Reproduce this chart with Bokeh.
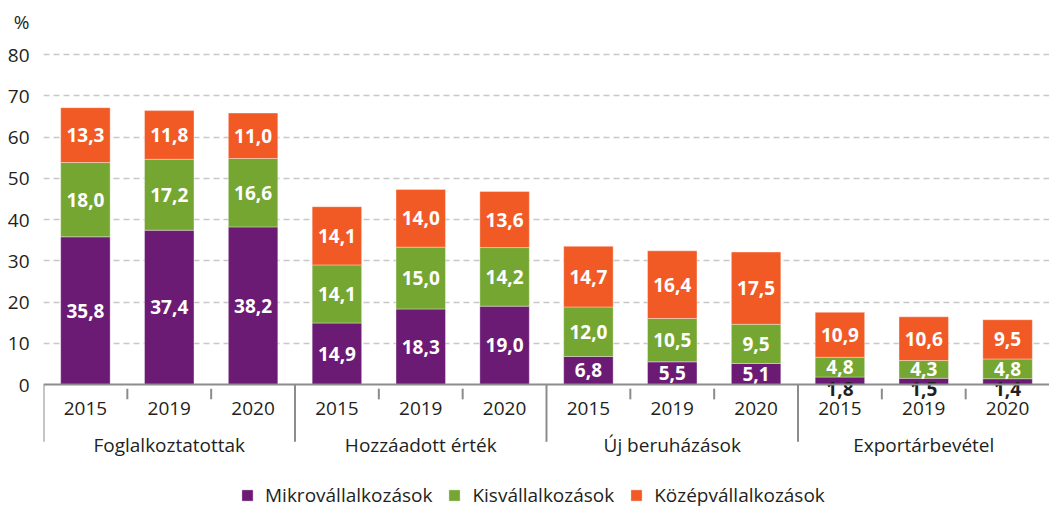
from bokeh.plotting import figure
from bokeh.models import (FactorRange, Range1d, ColumnDataSource, Legend, LegendItem,
                          FixedTicker, Span)
from bokeh.core.properties import value
from bokeh.embed import file_html
from bokeh.resources import INLINE

# ---------------- data ----------------
groups = ["Foglalkoztatottak", "Hozzáadott érték", "Új beruházások", "Exportárbevétel"]
years = ["2015", "2019", "2020"]
series_names = ["Mikrovállalkozások", "Kisvállalkozások", "Középvállalkozások"]
micro = [35.8, 37.4, 38.2, 14.9, 18.3, 19.0, 6.8, 5.5, 5.1, 1.8, 1.5, 1.4]
small = [18.0, 17.2, 16.6, 14.1, 15.0, 14.2, 12.0, 10.5, 9.5, 4.8, 4.3, 4.8]
medium = [13.3, 11.8, 11.0, 14.1, 14.0, 13.6, 14.7, 16.4, 17.5, 10.9, 10.6, 9.5]
y_ticks = [0, 10, 20, 30, 40, 50, 60, 70, 80]
y_unit = "%"
y_unit_pos = 88

# ---------------- style ----------------
colors = ["#6b1b74", "#75a632", "#f15a24"]
FONT = "Open Sans"
TXT = "#231f20"
FS = "19px"
W, H = 1049, 508
LEFT = 43
PX_PER_UNIT = 4.125      # pixels per y unit
ZERO_Y = 384             # pixel position of y=0 from figure top

factors = [(g, y) for g in groups for y in years]
fmt = lambda v: f"{v:.1f}".replace(".", ",")

y_max = ZERO_Y / PX_PER_UNIT
y_min = -(H - ZERO_Y) / PX_PER_UNIT

p = figure(width=W, height=H, output_backend="svg", toolbar_location=None,
           x_range=FactorRange(*factors, factor_padding=0, group_padding=0, range_padding=0),
           y_range=Range1d(y_min, y_max), x_axis_location=None,
           min_border_left=LEFT, min_border_right=0, min_border_top=0, min_border_bottom=0)
p.outline_line_color = None
p.background_fill_color = "white"
p.xgrid.visible = False

# y axis (unit sign shown as an extra, relabelled tick at the top)
ax = p.yaxis[0]
ax.ticker = FixedTicker(ticks=y_ticks + [y_unit_pos])
ax.major_label_overrides = {y_unit_pos: y_unit}
ax.axis_line_color = None
ax.major_tick_line_color = None
ax.minor_tick_line_color = None
ax.major_tick_out = 0
ax.major_tick_in = 0
ax.major_label_standoff = 14
ax.major_label_text_font = FONT
ax.major_label_text_font_size = FS
ax.major_label_text_color = TXT

p.ygrid.ticker = FixedTicker(ticks=y_ticks[1:])
p.ygrid.grid_line_color = "#c8c8c8"
p.ygrid.grid_line_dash = "6 4"
p.ygrid.grid_line_width = 1.5

src = ColumnDataSource(dict(x=factors, micro=micro, small=small, medium=medium))
rs = p.vbar_stack(["micro", "small", "medium"], x="x", width=0.59, source=src,
                  fill_color=colors, line_color="white", line_alpha=0.35, line_width=1)

# axis line at zero
p.add_layout(Span(location=0, dimension="width", line_color="#8c8c8c", line_width=2))

# separators / ticks (synthetic coordinates of factor boundaries)
n_groups, n_years = len(groups), len(years)
gx = [i * n_years for i in range(n_groups)]
tx = [i * n_years + j for i in range(n_groups) for j in range(1, n_years)]
p.segment(x0=gx, x1=gx, y0=[0] * len(gx), y1=[-13.9] * len(gx), line_color="#8c8c8c", line_width=2)
p.segment(x0=tx, x1=tx, y0=[-1.0] * len(tx), y1=[-3.6] * len(tx), line_color="#8c8c8c", line_width=2)

# category labels
p.text(x=factors, y=[-5.9] * len(factors), text=[f[1] for f in factors],
       text_align="center", text_baseline="middle", text_font=value(FONT),
       text_font_size=FS, text_color=TXT)
p.text(x=groups, y=[-14.6] * len(groups), text=groups,
       text_align="center", text_baseline="middle", text_font=value(FONT),
       text_font_size=FS, text_color=TXT)

# value labels
lab_x, lab_y, lab_t, lab_c = [], [], [], []
for i, f in enumerate(factors):
    base = 0.0
    for vals in (micro, small, medium):
        v = vals[i]
        lab_x.append(f)
        if v < 3:
            lab_y.append(-1.0)
            lab_c.append(TXT)
        else:
            lab_y.append(base + v / 2)
            lab_c.append("white")
        lab_t.append(fmt(v))
        base += v
p.text(x=lab_x, y=lab_y, text=lab_t, text_color=lab_c, text_align="center",
       text_baseline="middle", text_font=value(FONT), text_font_size=FS,
       text_font_style="bold")

legend = Legend(items=[LegendItem(label=n, renderers=[r]) for n, r in zip(series_names, rs)],
                orientation="horizontal", location=(197, 0), glyph_width=14, glyph_height=14,
                label_standoff=11, spacing=15, padding=0, margin=0,
                border_line_color=None, background_fill_alpha=0,
                label_text_font=FONT, label_text_font_size=FS, label_text_color=TXT)
p.add_layout(legend)

open("out.html", "w").write(file_html(p, INLINE))
